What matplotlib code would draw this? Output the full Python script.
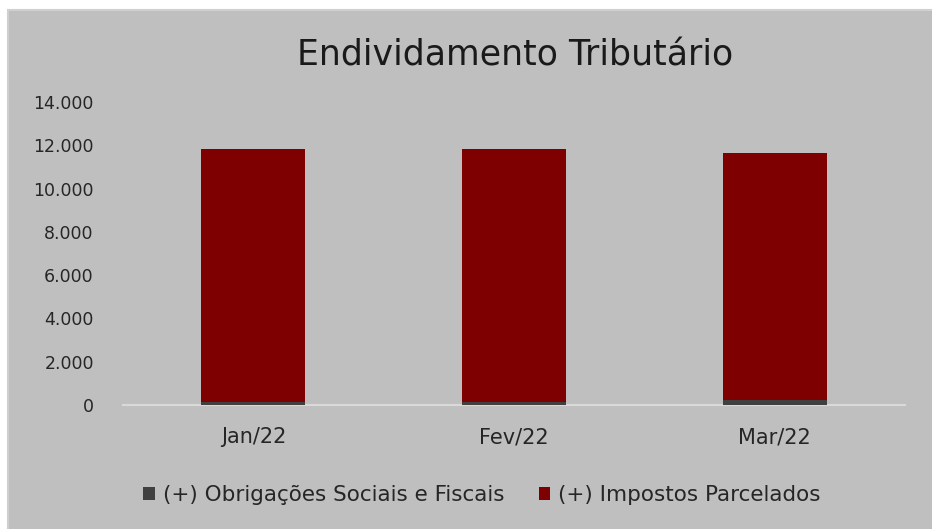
import matplotlib
matplotlib.use("Agg")
import matplotlib.pyplot as plt
from matplotlib.patches import Rectangle
from matplotlib.ticker import FuncFormatter

categories = ["Jan/22", "Fev/22", "Mar/22"]
obrigacoes = [120, 120, 240]
impostos = [11710, 11710, 11400]
series_names = ["(+) Obrigações Sociais e Fiscais", "(+) Impostos Parcelados"]
yticks = [0, 2000, 4000, 6000, 8000, 10000, 12000, 14000]

plt.rcParams['font.family'] = ['DejaVu Sans']

W, H = 932, 529
fig = plt.figure(figsize=(W / 100, H / 100), dpi=100)
fig.patch.set_facecolor("white")
# grey chart area (extends past right and bottom edges)
fig.patches.append(Rectangle((8 / W, -0.1), 1.2, 1.1 - 10 / H, transform=fig.transFigure,
                             facecolor="#BFBFBF", edgecolor="#D0D0D0", lw=1.5, zorder=-10))

ax = fig.add_axes([123 / W, 1 - 405 / H, (905 - 123) / W, (405 - 102) / H])
ax.set_zorder(2)
ax.set_facecolor("none")
x = range(len(categories))
ax.bar(x, obrigacoes, width=0.40, color="#404040", label=series_names[0], zorder=3)
ax.bar(x, impostos, width=0.40, bottom=obrigacoes, color="#7F0000", label=series_names[1], zorder=3)

ax.set_xlim(-0.5, len(categories) - 0.5)
ax.set_ylim(0, 14000)
ax.set_yticks(yticks)
ax.yaxis.set_major_formatter(FuncFormatter(lambda v, p: f"{int(v):,}".replace(",", ".")))
ax.set_xticks(list(x))
ax.set_xticklabels(categories)
for s in ["top", "right", "left"]:
    ax.spines[s].set_visible(False)
ax.spines["bottom"].set_color("#D9D9D9")
ax.spines["bottom"].set_linewidth(1.5)
ax.tick_params(axis="both", length=0, colors="#262626")
ax.tick_params(axis="y", pad=21, labelsize=12.5)
ax.tick_params(axis="x", pad=16, labelsize=15)

fig.text(0.553, 1 - 55 / H, "Endividamento Tributário", ha="center", va="center",
         fontsize=25, color="#1a1a1a")

fig.legend(loc="center", bbox_to_anchor=(0.517, 1 - 495 / H), ncol=2, frameon=False,
           fontsize=15.5, handlelength=0.55, handleheight=0.55, handletextpad=0.35,
           columnspacing=1.6, labelcolor="#262626")

fig.savefig("out.png", dpi=100)
